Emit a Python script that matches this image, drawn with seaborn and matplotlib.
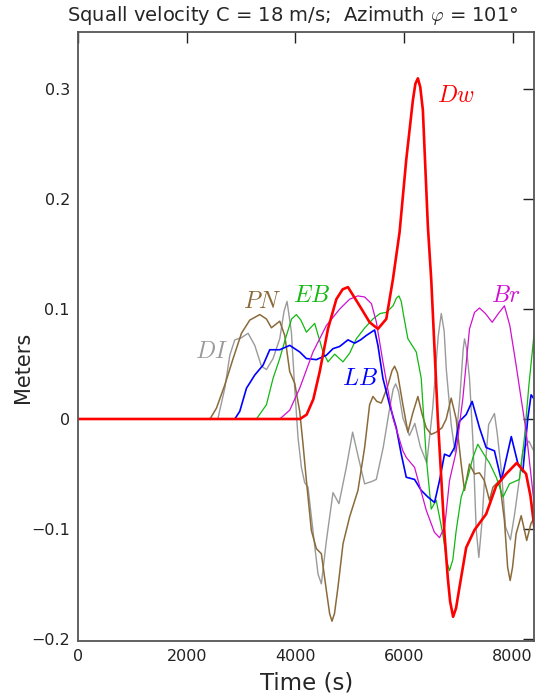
import numpy as np
import pandas as pd
import matplotlib
matplotlib.use("Agg")
import matplotlib.pyplot as plt
import seaborn as sns

# time (s) / displacement (m), one pair of lists per station
di_t = [0, 2570, 2699, 2791, 2883, 3006, 3128, 3251, 3374, 3466, 3588, 3711, 3790, 3846, 3926, 3987,
        4048, 4110, 4171, 4232, 4324, 4416, 4478, 4570, 4692, 4802, 4938, 5054, 5160, 5275, 5400,
        5490, 5617, 5720, 5800, 5846, 5900, 5980, 6100, 6200, 6300, 6420, 6530, 6630, 6687, 6740, 6780, 6870, 6940, 7030,
        7090, 7116, 7150, 7207, 7270, 7330, 7379, 7440, 7500, 7560, 7667, 7720, 7800, 7870, 7961, 8040, 8130,
        8190, 8300, 8400]
di_v = [0, 0, 0.028, 0.058, 0.072, 0.074, 0.078, 0.067, 0.048, 0.045, 0.055, 0.073, 0.098, 0.107, 0.079, 0.028,
        -0.017, -0.044, -0.058, -0.062, -0.102, -0.141, -0.150, -0.111, -0.067, -0.077, -0.044, -0.012, -0.035, -0.059, -0.057,
        -0.055, -0.026, 0.005, 0.027, 0.032, 0.025, 0.001, -0.015, -0.004, -0.025, -0.040, 0.010, 0.075, 0.096, 0.080, 0.045, -0.005, -0.030, 0.020,
        0.063, 0.073, 0.065, 0.037, -0.020, -0.100, -0.126, -0.092, -0.041, -0.005, 0.005, -0.014, -0.050, -0.098, -0.110, -0.086, -0.053,
        -0.029, -0.020, -0.030]

pn_t = [0, 2427, 2546, 2699, 2852, 3006, 3159, 3343, 3466, 3558, 3711, 3803, 3895, 3987, 4079,
        4140, 4202, 4294, 4386, 4478, 4570, 4630, 4674, 4720, 4784, 4877, 4999, 5152, 5275, 5367, 5428, 5500,
        5582, 5700, 5780, 5827, 5880, 5980, 6072, 6160, 6256, 6330, 6410, 6500, 6594, 6700, 6778, 6870, 6962,
        7054, 7115, 7207, 7300, 7391, 7480, 7575, 7640, 7759, 7850, 7910, 7956, 8000, 8066, 8160, 8261, 8340, 8400]
pn_v = [0, 0, 0.010, 0.031, 0.055, 0.078, 0.090, 0.095, 0.091, 0.083, 0.089, 0.076, 0.043, 0.0325, 0.007,
        -0.023, -0.056, -0.1015, -0.118, -0.1226, -0.156, -0.177, -0.184, -0.177, -0.153, -0.1135, -0.089, -0.065, -0.026, 0.013, 0.0205, 0.016,
        0.0145, 0.030, 0.044, 0.048, 0.042, 0.013, -0.012, 0.005, 0.0205, 0.005, -0.008, -0.014, -0.012, -0.008, 0.0, 0.019, 0.0,
        -0.041, -0.065, -0.041, -0.050, -0.049, -0.056, -0.074, -0.062, -0.056, -0.092, -0.135, -0.147, -0.135, -0.1045, -0.088, -0.1105, -0.095, -0.090]

eb_t = [0, 3282, 3466, 3588, 3711, 3834, 3930, 4018, 4100, 4202, 4355, 4508, 4600, 4723, 4877, 5000, 5122,
        5280, 5428, 5560, 5674, 5800, 5860, 5906, 5950, 5990, 6072, 6226, 6318, 6410, 6502, 6594, 6717, 6790, 6839,
        6900, 6962, 7054, 7176, 7270, 7360, 7470, 7575, 7700, 7825, 7943, 8127, 8219, 8300, 8400]
eb_v = [0, 0, 0.013, 0.037, 0.055, 0.076, 0.091, 0.095, 0.090, 0.079, 0.087, 0.061, 0.052, 0.059, 0.052, 0.060, 0.073,
        0.083, 0.091, 0.096, 0.097, 0.103, 0.110, 0.112, 0.107, 0.095, 0.073, 0.061, 0.037, -0.035, -0.082, -0.074, -0.105, -0.130, -0.138,
        -0.128, -0.1015, -0.071, -0.053, -0.035, -0.023, -0.032, -0.040, -0.053, -0.071, -0.059, -0.055, -0.017, 0.030, 0.079]

lb_t = [0, 2883, 2975, 3098, 3251, 3404, 3527, 3711, 3895, 4079, 4202, 4386, 4570, 4692, 4815,
        4968, 5091, 5200, 5306, 5459, 5520, 5612, 5735, 5858, 5950, 6042, 6195, 6318, 6441, 6563,
        6655, 6747, 6839, 6931, 7023, 7146, 7256, 7391, 7514, 7667, 7794, 7977, 8096, 8189, 8280, 8342, 8400]
lb_v = [0, 0, 0.007, 0.028, 0.040, 0.049, 0.063, 0.063, 0.067, 0.061, 0.055, 0.054, 0.058, 0.064, 0.066,
        0.072, 0.069, 0.072, 0.076, 0.081, 0.067, 0.037, 0.013, -0.008, -0.032, -0.053, -0.055, -0.065, -0.071, -0.076,
        -0.056, -0.032, -0.034, -0.026, -0.002, 0.004, 0.016, -0.008, -0.026, -0.029, -0.056, -0.016, -0.040, -0.048, 0.0, 0.022, 0.018]

br_t = [0, 3711, 3895, 4079, 4324, 4570, 4815, 4999, 5150, 5275, 5400, 5490, 5612, 5796, 5980,
        6042, 6195, 6410, 6560, 6655, 6750, 6839, 6960, 7085, 7207, 7300, 7391, 7500, 7625, 7740,
        7851, 7950, 8066, 8160, 8250, 8400]
br_v = [0, 0, 0.008, 0.028, 0.061, 0.085, 0.100, 0.109, 0.112, 0.111, 0.105, 0.0885, 0.052, 0.001, -0.029,
        -0.035, -0.044, -0.083, -0.103, -0.108, -0.098, -0.056, -0.030, 0.019, 0.082, 0.097, 0.101, 0.096, 0.088, 0.096,
        0.103, 0.085, 0.049, 0.018, -0.011, -0.078]

dw_t = [0, 4085, 4207, 4330, 4447, 4600, 4754, 4870, 4968, 5183, 5367, 5520, 5674, 5796, 5919,
        6042, 6164, 6210, 6256, 6300, 6348, 6440, 6502, 6624, 6747, 6808, 6850, 6905, 6960, 7023, 7146, 7299, 7514, 7698,
        7882, 8077, 8250, 8330, 8400]
dw_v = [0, 0, 0.004, 0.018, 0.043, 0.082, 0.109, 0.118, 0.120, 0.103, 0.088, 0.082, 0.091, 0.127, 0.170,
        0.236, 0.290, 0.305, 0.310, 0.302, 0.281, 0.1755, 0.127, 0.0, -0.105, -0.145, -0.166, -0.180, -0.172, -0.153, -0.117, -0.101, -0.0865, -0.061,
        -0.050, -0.040, -0.050, -0.070, -0.098]

stations = ["DI", "PN", "EB", "LB", "Br", "Dw"]
series = {"DI": (di_t, di_v), "PN": (pn_t, pn_v), "EB": (eb_t, eb_v),
          "LB": (lb_t, lb_v), "Br": (br_t, br_v), "Dw": (dw_t, dw_v)}
colors = {"DI": "#9a9a9a", "PN": "#8b6a3a", "EB": "#10b810", "LB": "#0000ff",
          "Br": "#d010d0", "Dw": "#ff0000"}
widths = {"DI": 1.0, "PN": 1.1, "EB": 0.9, "LB": 1.2, "Br": 0.9, "Dw": 1.9}
# label anchor points (time, meters)
label_pos = {"DI": (2460, 0.062), "PN": (3381, 0.1075), "EB": (4301, 0.113),
             "LB": (5183, 0.037), "Br": (7888, 0.113), "Dw": (6950, 0.2945)}

x_ticks = [0, 2000, 4000, 6000, 8000]
y_ticks = [-0.2, -0.1, 0.0, 0.1, 0.2, 0.3]
y_tick_labels = ["\u22120.2", "\u22120.1", "0", "0.1", "0.2", "0.3"]

sns.set_style("white")
plt.rcParams["font.family"] = ["DejaVu Sans"]
plt.rcParams["mathtext.fontset"] = "cm"

fig = plt.figure(figsize=(5.48, 6.99), dpi=100)
ax = fig.add_axes([0.1429, 0.083, 0.832, 0.871])

for name in stations:
    t, v = series[name]
    df = pd.DataFrame({"t": t, "v": v})
    sns.lineplot(data=df, x="t", y="v", color=colors[name], lw=widths[name],
                 estimator=None, ax=ax)
    lx, ly = label_pos[name]
    ax.text(lx, ly, f"${name}$", color=colors[name], fontsize=17,
            ha="center", va="center")

ax.set_xlim(0, 8400)
ax.set_ylim(-0.202, 0.352)
ax.set_xticks(x_ticks)
ax.set_xticklabels([str(x) for x in x_ticks])
ax.set_yticks(y_ticks)
ax.set_yticklabels(y_tick_labels)
ax.tick_params(direction="in", top=True, right=True, length=8, width=1,
               labelsize=11.5, pad=6, colors="#222222")
for sp in ax.spines.values():
    sp.set_color("#555555")
    sp.set_linewidth(1.3)

ax.set_xlabel("Time (s)", fontsize=16.5, labelpad=5)
ax.set_ylabel("Meters", fontsize=15)
ax.yaxis.set_label_coords(-0.10, 0.45)
ax.set_title("Squall velocity C = 18 m/s;  Azimuth $\\varphi$ = 101\u00b0",
             fontsize=14, pad=8, x=0.47)

fig.savefig("out.png", dpi=100)
